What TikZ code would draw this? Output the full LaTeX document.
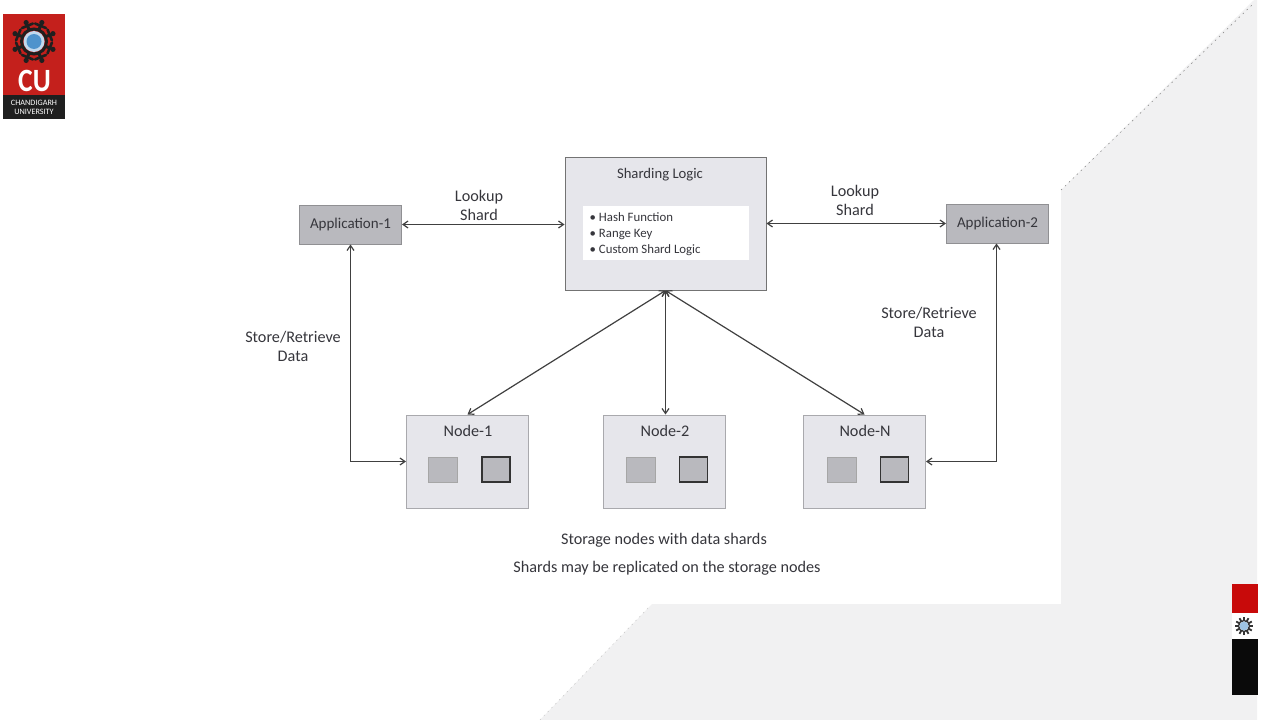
\documentclass[tikz,border=0pt]{standalone}
\usepackage{fontspec}
\setmainfont{Carlito}
\usetikzlibrary{arrows.meta}
\definecolor{pagegray}{HTML}{F1F1F2}
\definecolor{boxfill}{HTML}{E6E6EB}
\definecolor{boxline}{HTML}{A9A9AD}
\definecolor{appfill}{HTML}{B9B9BE}
\definecolor{inkc}{HTML}{36363C}
\definecolor{cured}{HTML}{C4201C}
\definecolor{tabred}{HTML}{C80A0A}
\definecolor{globeblue}{HTML}{4E93CC}
\tikzset{
  x=1pt,y=-1pt,
  lbl/.style={text=inkc,font=\fontsize{16.2}{19}\selectfont,align=center,inner sep=0pt},
  smalllbl/.style={text=inkc,font=\fontsize{12.8}{16}\selectfont,align=left,inner sep=0pt},
  appbox/.style={draw=boxline!85!black,line width=1pt,fill=appfill,minimum width=102pt,minimum height=39pt,inner sep=0pt,text=inkc,font=\fontsize{15}{18}\selectfont},
  logicbox/.style={draw=black!55,line width=1pt,fill=boxfill,minimum width=201pt,minimum height=133pt,inner sep=0pt},
  whitebox/.style={fill=white,minimum width=166pt,minimum height=54pt,inner sep=0pt},
  storebox/.style={draw=boxline,line width=1pt,fill=boxfill,minimum width=122pt,minimum height=93pt,inner sep=0pt},
  shardA/.style={draw=black!35,line width=1pt,fill=appfill,minimum width=29pt,minimum height=25pt,inner sep=0pt},
  shardB/.style={draw=black!80,line width=1.1pt,fill=appfill,minimum width=28pt,minimum height=25pt,inner sep=0pt},
  conn/.style={draw=black!75,line width=1.2pt,{Straight Barb[length=5pt,width=7pt]}-{Straight Barb[length=5pt,width=7pt]}},
}
\begin{document}
\begin{tikzpicture}
\useasboundingbox (0,0) rectangle (1261,720);
\fill[white] (0,0) rectangle (1261,720);
% background
\fill[pagegray] (1061,190) -- (1254,0) -- (1257,0) -- (1257,720) -- (540,720) -- (652,604) -- (1061,604) -- cycle;
\draw[black!50,line width=0.5pt,dash pattern=on 1.5pt off 4pt] (1061,190) -- (1254,3);
\draw[black!22,line width=0.5pt,dash pattern=on 1.5pt off 4pt] (540,720) -- (650,606);
% logo
\fill[cured] (3,14) rectangle (65,95);
\fill[black!88] (3,95) rectangle (65,119);
\draw[black!88,line width=3pt] (34,41.5) circle (12.5);
\foreach \a in {22.5,67.5,...,337.5}{
  \draw[black!88,line width=3pt,line cap=round] ([shift={(\a:12)}]34,41.5) -- ([shift={(\a:18)}]34,41.5);
  \draw[black!88,line width=2.6pt,line cap=round] ([shift={(\a-19:18)}]34,41.5) -- ([shift={(\a+19:18)}]34,41.5);
  \fill[black!88] ([shift={(\a:20.5)}]34,41.5) circle (2.6);
}
\fill[white!65!globeblue] (34,41.5) circle (10.5);
\fill[globeblue] (34,41.5) circle (7.5);
\node[font=\bfseries,text=white,inner sep=0pt] (culogo) at (34.5,81) {\scalebox{0.95}[1.12]{\fontsize{29}{29}\selectfont CU}};
\node[font=\fontsize{8.2}{9}\selectfont,text=white,align=center,inner sep=0pt] (cuname) at (34,107.5) {CHANDIGARH\\UNIVERSITY};
% side tab
\fill[tabred] (1232,584) rectangle (1258,613);
\fill[white] (1232,613) rectangle (1258,639);
\fill[black!96] (1232,639) rectangle (1258,695);
\foreach \a in {0,30,...,330}{
  \draw[black!80,line width=1.8pt] ([shift={(\a:5)}]1244,626) -- ([shift={(\a:9)}]1244,626);
}
\draw[black!80,line width=1.4pt] (1244,626) circle (5.5);
\fill[white!45!globeblue] (1244,626) circle (4.5);
% boxes
\node[logicbox] (logic) at (665.5,223.5) {};
\node[whitebox] (inner) at (665.5,233) {};
\node[lbl,font=\fontsize{14.7}{17}\selectfont] (logictitle) at (660,174.5) {Sharding Logic};
\node[smalllbl,anchor=west] (items) at (589.5,234) {• Hash Function\\• Range Key\\• Custom Shard Logic};
\node[appbox] (app1) at (350.5,224.5) {Application-1};
\node[appbox] (app2) at (997.5,223.5) {Application-2};
\node[storebox] (n1) at (467.5,461.5) {};
\node[storebox] (n2) at (664.5,461.5) {};
\node[storebox] (nn) at (864.5,461.5) {};
\node[lbl] (n1t) at (468,431) {Node-1};
\node[lbl] (n2t) at (665,431) {Node-2};
\node[lbl] (nnt) at (865,431) {Node-N};
\node[shardA] (s1a) at (443,469.5) {};
\node[shardB] (s1b) at (496,469.5) {};
\node[shardA] (s2a) at (641,469.5) {};
\node[shardB] (s2b) at (693.5,469.5) {};
\node[shardA] (s3a) at (841.5,469.5) {};
\node[shardB] (s3b) at (894.5,469.5) {};
% connectors
\draw[conn] (app1.east) -- (logic.west |- app1.east);
\draw[conn] (logic.east) -- (app2.west);
\draw[conn] (logic.south) -- (n1.north);
\draw[conn] (logic.south) -- (logic.south |- n2.north);
\draw[conn] (logic.south) -- (nn.north);
\draw[conn] (app1.south) |- (n1.west);
\draw[conn] (app2.south -| 996.5,0) |- (nn.east);
% labels
\node[lbl] (l1) at (479,205.5) {Lookup\\Shard};
\node[lbl] (l2) at (855,200) {Lookup\\Shard};
\node[lbl] (l3) at (293,346.5) {Store/Retrieve\\Data};
\node[lbl] (l4) at (929,322) {Store/Retrieve\\Data};
\node[lbl] (c1) at (664,540) {Storage nodes with data shards};
\node[lbl] (c2) at (667,568) {Shards may be replicated on the storage nodes};
\end{tikzpicture}
\end{document}
